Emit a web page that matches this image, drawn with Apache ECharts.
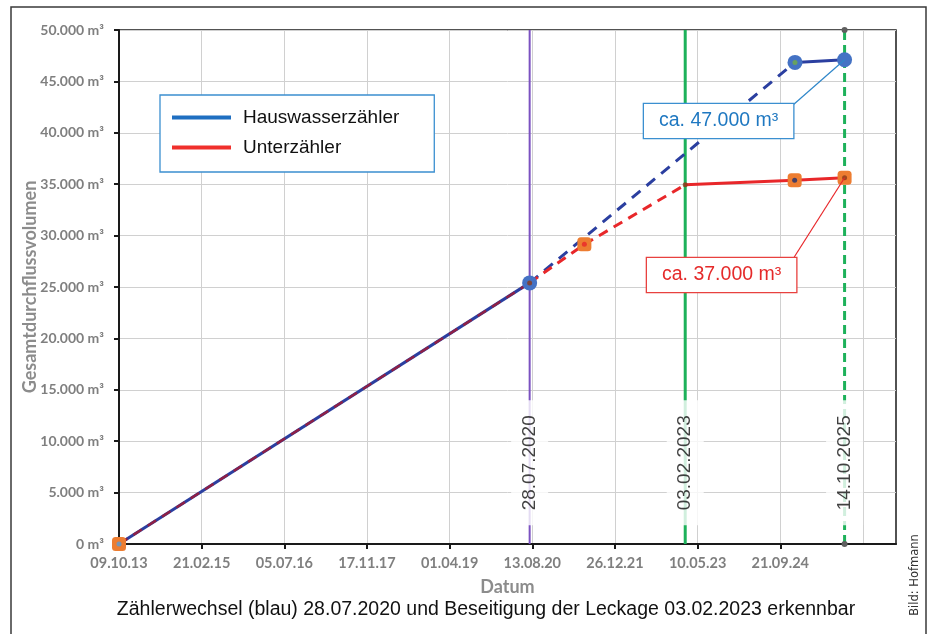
<!DOCTYPE html>
<html>
<head>
<meta charset="utf-8">
<script src="https://cdn.jsdelivr.net/npm/echarts@6/dist/echarts.min.js"></script>
<style>
  html, body { margin: 0; padding: 0; background: #fff; }
  #chart { width: 931px; height: 634px; }
</style>
</head>
<body>
<div id="chart"></div>
<script>
// x-Werte = Tage seit dem 09.10.2013
var startDatum = Date.UTC(2013, 9, 9);
var xTicks = [0, 500, 1000, 1500, 2000, 2500, 3000, 3500, 4000, 4500];

var hausTage = [0, 2484, 4089, 4389];
var hausWerte = [0, 25400, 46850, 47100];
var hausGestrichelt = [false, true, false];

var unterTage = [0, 2484, 2815, 3425, 4087, 4389];
var unterWerte = [0, 25400, 29150, 34950, 35380, 35630];
var unterGestrichelt = [true, true, true, false, false];

var markTage = [2484, 3425, 4389];
var markTexte = ['28.07.2020', '03.02.2023', '14.10.2025'];

var labelFont = 'Lato';
var textFont = '"Liberation Sans", Arial, sans-serif';

function datumText(v) {
    var d = new Date(startDatum + v * 86400000);
    var dd = ('0' + d.getUTCDate()).slice(-2);
    var mm = ('0' + (d.getUTCMonth() + 1)).slice(-2);
    var yy = ('' + d.getUTCFullYear()).slice(-2);
    return dd + '.' + mm + '.' + yy;
}

function m3(v) {
    return String(v).replace(/\B(?=(\d{3})+(?!\d))/g, '.') + ' m³';
}

var series = [];

// vertikale Datumslinien
var markFarben = ['#7B52C1', '#1DB15A', '#1DB15A'];
for (var i = 0; i < markTage.length; i++) {
    series.push({
        type: 'line',
        data: [[markTage[i], 0], [markTage[i], 50000]],
        symbol: i == 2 ? 'circle' : 'none',
        symbolSize: 6,
        itemStyle: {color: '#5f5f5f'},
        lineStyle: {color: markFarben[i], width: i == 0 ? 2 : 3, type: i == 2 ? [9, 5] : 'solid'},
        z: 1,
        silent: true,
        animation: false
    });
    series.push({
        type: 'scatter',
        data: [[markTage[i], 7900]],
        symbolSize: 0.1,
        itemStyle: {color: '#fff'},
        label: {
            show: true,
            position: 'inside',
            rotate: 90,
            formatter: markTexte[i],
            fontFamily: textFont,
            fontSize: 19,
            lineHeight: 20,
            color: '#111',
            backgroundColor: '#fff',
            padding: [8, 15, 9, 15]
        },
        z: 9,
        silent: true,
        animation: false
    });
}

// Liniensegmente
for (var i = 0; i < hausTage.length - 1; i++) {
    series.push({
        name: 'Hauswasserzähler',
        type: 'line',
        data: [[hausTage[i], hausWerte[i]], [hausTage[i + 1], hausWerte[i + 1]]],
        symbol: 'none',
        lineStyle: {color: '#2B3FA0', width: 3, type: hausGestrichelt[i] ? [11, 8] : 'solid'},
        z: 3,
        animation: false
    });
}
for (var i = 0; i < unterTage.length - 1; i++) {
    series.push({
        name: 'Unterzähler',
        type: 'line',
        data: [[unterTage[i], unterWerte[i]], [unterTage[i + 1], unterWerte[i + 1]]],
        symbol: 'none',
        lineStyle: {
            color: i == 0 ? '#8E2046' : '#E8272A',
            width: i == 0 ? 2.5 : 3,
            type: unterGestrichelt[i] ? [10, 7] : 'solid'
        },
        z: 4,
        animation: false
    });
}

// Marker
var hausMarker = [false, true, true, true];
var unterMarker = [true, false, true, false, true, true];
series.push({
    name: 'Hauswasserzähler',
    type: 'scatter',
    data: hausTage.map(function (t, k) {
        return {value: [t, hausWerte[k]], symbolSize: hausMarker[k] ? 15 : 0};
    }),
    symbol: 'circle',
    itemStyle: {color: '#4472C4', opacity: 1},
    z: 5,
    animation: false
});
series.push({
    name: 'Unterzähler',
    type: 'scatter',
    data: unterTage.map(function (t, k) {
        return {value: [t, unterWerte[k]], symbolSize: unterMarker[k] ? 14 : 0};
    }),
    symbol: 'roundRect',
    itemStyle: {color: '#ED7D31', opacity: 1},
    z: 6,
    animation: false
});
// kleine Punkte in den Markern
var punkte = [
    [hausTage[0], hausWerte[0], '#5B9BD5'],
    [hausTage[2], hausWerte[2], '#70AD47'],
    [unterTage[1], unterWerte[1], '#8B3A1A'],
    [unterTage[2], unterWerte[2], '#E8272A'],
    [unterTage[3], unterWerte[3], '#8B3A1A'],
    [unterTage[4], unterWerte[4], '#1F2F6F'],
    [unterTage[5], unterWerte[5], '#8B3A1A']
];
series.push({
    type: 'scatter',
    data: punkte.map(function (p) {
        return {value: [p[0], p[1]], itemStyle: {color: p[2]}};
    }),
    symbolSize: 5,
    z: 7,
    silent: true,
    animation: false
});

var chart = echarts.init(document.getElementById('chart'));
var option = {
    animation: false,
    grid: {
        left: 119, top: 30, right: 35, bottom: 90,
        show: true, borderColor: '#1a1a1a', borderWidth: 1.5
    },
    legend: {
        orient: 'vertical',
        left: 160, top: 95,
        data: [
            {name: 'Hauswasserzähler', icon: 'rect', itemStyle: {color: '#1F6FC1'}},
            {name: 'Unterzähler', icon: 'rect', itemStyle: {color: '#F0302C'}}
        ],
        itemWidth: 59, itemHeight: 4, itemGap: 11,
        padding: [13, 35, 15, 12],
        backgroundColor: '#fff',
        borderColor: '#3B8FD0', borderWidth: 1.3,
        textStyle: {fontFamily: textFont, fontSize: 19, lineHeight: 19, color: '#111', padding: [0, 0, 0, 7]},
        selectedMode: false
    },
    xAxis: {
        type: 'value',
        min: 0, max: 4700, interval: 500,
        name: 'Datum',
        nameLocation: 'middle',
        nameGap: 34,
        nameMoveOverlap: false,
        nameTextStyle: {fontFamily: labelFont, fontWeight: 'bold', fontSize: 18, color: '#8C8C8C'},
        axisLine: {lineStyle: {color: '#1a1a1a', width: 2}},
        axisTick: {show: true, length: 5, lineStyle: {color: '#1a1a1a', width: 2}, customValues: xTicks},
        axisLabel: {
            customValues: xTicks,
            showMaxLabel: false,
            margin: 12,
            fontFamily: labelFont, fontWeight: 'bold', fontSize: 14.5, color: '#7F7F7F',
            formatter: function (v) { return xTicks.indexOf(v) >= 0 ? datumText(v) : ''; }
        },
        splitLine: {show: true, lineStyle: {color: '#D0D0D0', width: 1}}
    },
    yAxis: {
        type: 'value',
        min: 0, max: 50000, interval: 5000,
        name: 'Gesamtdurchflussvolumen',
        nameLocation: 'middle',
        nameGap: 80,
        nameMoveOverlap: false,
        nameTextStyle: {fontFamily: labelFont, fontWeight: 'bold', fontSize: 18, color: '#8C8C8C'},
        axisLine: {show: true, lineStyle: {color: '#1a1a1a', width: 2}},
        axisTick: {show: true, length: 5, lineStyle: {color: '#1a1a1a', width: 2}},
        axisLabel: {
            margin: 15,
            fontFamily: labelFont, fontWeight: 'bold', fontSize: 14, color: '#7F7F7F',
            formatter: m3
        },
        splitLine: {show: true, lineStyle: {color: '#D0D0D0', width: 1}}
    },
    series: series
};
chart.setOption(option);

// Anmerkungen mit Hinweislinien
var pBlau = chart.convertToPixel({gridIndex: 0}, [hausTage[3], hausWerte[3]]);
var pRot = chart.convertToPixel({gridIndex: 0}, [unterTage[5], unterWerte[5]]);

chart.setOption({
    graphic: [
        {
            type: 'rect', z: 0, silent: true,
            shape: {x: 11, y: 7, width: 915, height: 640},
            style: {fill: 'none', stroke: '#3a3a3a', lineWidth: 1.5}
        },
        {
            type: 'line', z: 99, silent: true,
            shape: {x1: 793, y1: 105, x2: pBlau[0], y2: pBlau[1]},
            style: {stroke: '#2E86C9', lineWidth: 1.2}
        },
        {
            type: 'text', z: 100, x: 644, y: 104, silent: true,
            style: {
                text: 'ca. 47.000 m³', fontFamily: textFont, fontSize: 19.5, lineHeight: 20,
                fill: '#1F78C1', backgroundColor: '#fff', borderColor: '#3B8FD0', borderWidth: 1.3,
                padding: [7, 15, 7, 15], align: 'left', verticalAlign: 'top'
            }
        },
        {
            type: 'line', z: 99, silent: true,
            shape: {x1: 793, y1: 259, x2: pRot[0], y2: pRot[1]},
            style: {stroke: '#E8272A', lineWidth: 1.2}
        },
        {
            type: 'text', z: 100, x: 647, y: 258, silent: true,
            style: {
                text: 'ca. 37.000 m³', fontFamily: textFont, fontSize: 19.5, lineHeight: 20,
                fill: '#E52A2A', backgroundColor: '#fff', borderColor: '#E8413F', borderWidth: 1.3,
                padding: [7, 15, 7, 15], align: 'left', verticalAlign: 'top'
            }
        },
        {
            type: 'text', z: 100, x: 486, y: 610, silent: true,
            style: {
                text: 'Zählerwechsel (blau) 28.07.2020 und Beseitigung der Leckage 03.02.2023 erkennbar',
                fontFamily: textFont, fontSize: 19.5, fill: '#111', align: 'center', verticalAlign: 'middle'
            }
        },
        {
            type: 'text', z: 100, x: 915, y: 575, rotation: Math.PI / 2, silent: true,
            style: {
                text: 'Bild: Hofmann', fontFamily: '"DejaVu Sans", sans-serif', fontSize: 11.5,
                fill: '#333', align: 'center', verticalAlign: 'middle'
            }
        }
    ]
});
</script>
</body>
</html>
